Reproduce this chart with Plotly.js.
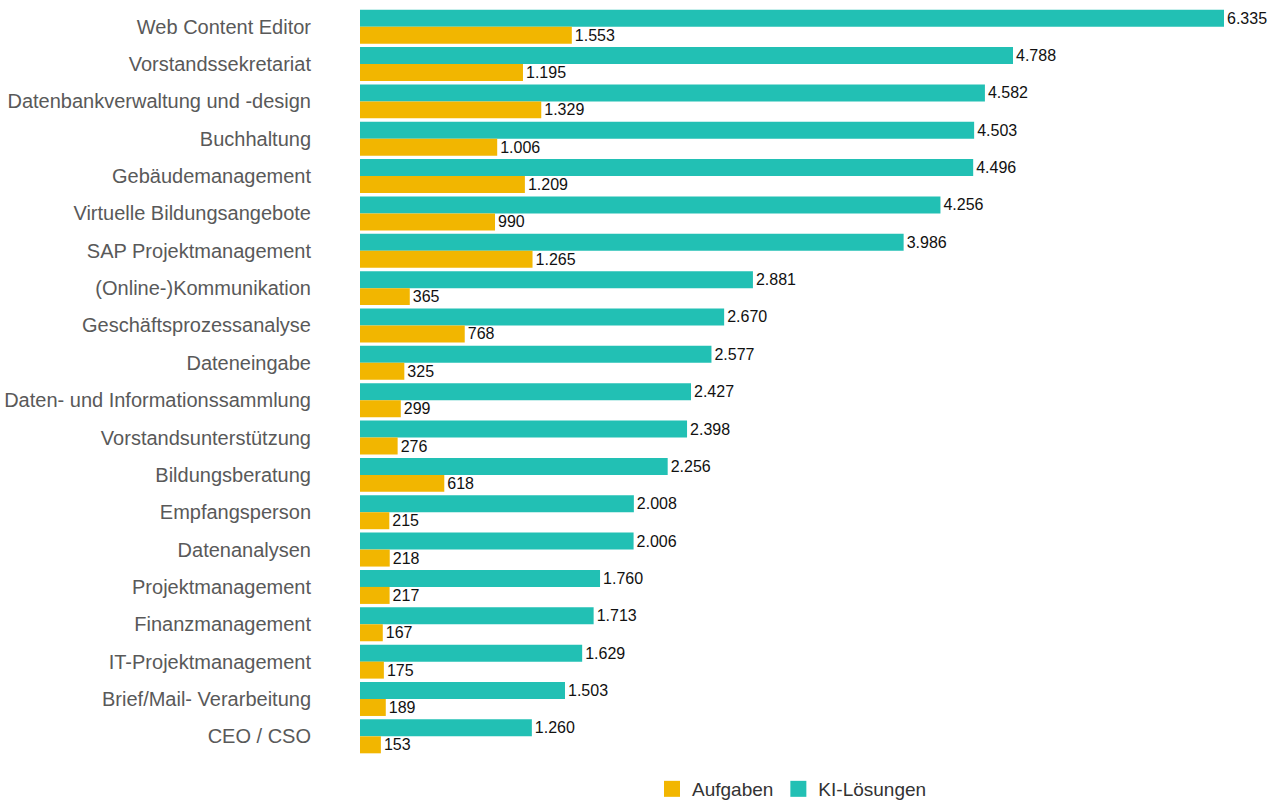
<!DOCTYPE html>
<html>
<head>
<meta charset="utf-8">
<script src="https://cdn.plot.ly/plotly-3.0.1.min.js"></script>
<style>html,body{margin:0;padding:0;background:#fff;}#chart{width:1275px;height:801px;}</style>
</head>
<body>
<div id="chart"></div>
<script>
const categories = [
  "Web Content Editor",
  "Vorstandssekretariat",
  "Datenbankverwaltung und -design",
  "Buchhaltung",
  "Gebäudemanagement",
  "Virtuelle Bildungsangebote",
  "SAP Projektmanagement",
  "(Online-)Kommunikation",
  "Geschäftsprozessanalyse",
  "Dateneingabe",
  "Daten- und Informationssammlung",
  "Vorstandsunterstützung",
  "Bildungsberatung",
  "Empfangsperson",
  "Datenanalysen",
  "Projektmanagement",
  "Finanzmanagement",
  "IT-Projektmanagement",
  "Brief/Mail- Verarbeitung",
  "CEO / CSO"
];
const kiLoesungen = [6335, 4788, 4582, 4503, 4496, 4256, 3986, 2881, 2670, 2577, 2427, 2398, 2256, 2008, 2006, 1760, 1713, 1629, 1503, 1260];
const aufgaben = [1553, 1195, 1329, 1006, 1209, 990, 1265, 365, 768, 325, 299, 276, 618, 215, 218, 217, 167, 175, 189, 153];
const seriesNames = ["Aufgaben", "KI-Lösungen"];
const seriesColors = ["#F2B600", "#22C0B4"];

const FONT = "Liberation Sans, Arial, sans-serif";

const traces = [
  {
    type: "bar", orientation: "h", name: seriesNames[1], legendgroup: "ki", showlegend: false,
    x: kiLoesungen, y: categories,
    marker: {color: seriesColors[1]},
    texttemplate: "%{x:,}", textposition: "outside", cliponaxis: false,
    constraintext: "none",
    textfont: {family: FONT, size: 16, color: "#111111"},
    hoverinfo: "x+y"
  },
  {
    type: "bar", orientation: "h", name: seriesNames[0], legendgroup: "auf", showlegend: false,
    x: aufgaben, y: categories,
    marker: {color: seriesColors[0]},
    texttemplate: "%{x:,}", textposition: "outside", cliponaxis: false,
    constraintext: "none",
    textfont: {family: FONT, size: 16, color: "#111111"},
    hoverinfo: "x+y"
  },
  // legend-only entries with larger square swatches
  {type: "scatter", mode: "markers", name: seriesNames[0], legendgroup: "auf",
   x: [null], y: [null], marker: {symbol: "square", size: 16, color: seriesColors[0]}, hoverinfo: "skip"},
  {type: "scatter", mode: "markers", name: seriesNames[1], legendgroup: "ki",
   x: [null], y: [null], marker: {symbol: "square", size: 16, color: seriesColors[1]}, hoverinfo: "skip"}
];

const layout = {
  width: 1275, height: 801,
  margin: {l: 360, r: 51, t: 8, b: 46},
  paper_bgcolor: "#ffffff", plot_bgcolor: "#ffffff",
  separators: ",.",
  barmode: "group",
  bargap: 0.09,
  bargroupgap: 0,
  font: {family: FONT, size: 20, color: "#595959"},
  xaxis: {range: [0, 6335], showgrid: false, zeroline: false, showticklabels: false, showline: false, ticks: ""},
  yaxis: {type: "category", categoryorder: "array", categoryarray: categories, autorange: "reversed",
          showgrid: false, zeroline: false, showline: false, ticks: "",
          ticklabelstandoff: 48, tickfont: {family: FONT, size: 20, color: "#595959"}},
  showlegend: true,
  legend: {orientation: "h", xref: "paper", x: 0.5, xanchor: "center",
           yref: "container", y: 0.015, yanchor: "middle", itemsizing: "trace",
           traceorder: "normal", font: {family: FONT, size: 19, color: "#333333"}}
};

Plotly.newPlot("chart", traces, layout, {displayModeBar: false, staticPlot: true});
</script>
</body>
</html>
